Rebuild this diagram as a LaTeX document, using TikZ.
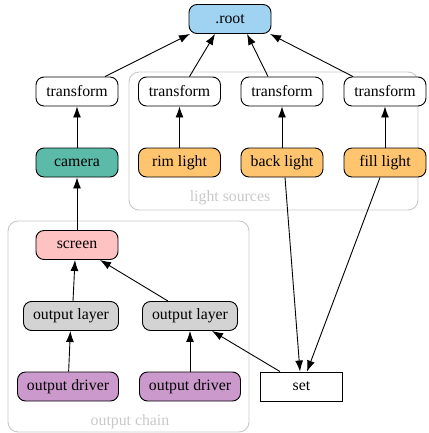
\documentclass[tikz,border=0pt]{standalone}
\usepackage{fontspec}
\setmainfont{Liberation Serif}
\usetikzlibrary{arrows.meta}
\definecolor{rootblue}{HTML}{A0D2F2}
\definecolor{camteal}{HTML}{5BBAA8}
\definecolor{lightorange}{HTML}{FEC46E}
\definecolor{screenpink}{HTML}{FFC2C2}
\definecolor{layergray}{HTML}{D3D3D3}
\definecolor{driverplum}{HTML}{CC99CC}
\definecolor{clustergray}{HTML}{C8C8C8}

\begin{document}
\begin{tikzpicture}[x=1pt, y=-1pt, >={Latex[length=11pt,width=8pt]},
	font=\fontsize{15.8}{18}\selectfont,
	box/.style={draw, rounded corners=8pt, minimum width=82pt, minimum height=29pt, inner sep=2pt, line width=0.9pt},
	edge/.style={->, line width=0.9pt},
	cluster/.style={draw=clustergray, rounded corners=10pt, line width=0.9pt},
	clabel/.style={text=clustergray}]
	\useasboundingbox (0,0) rectangle (428,433);
	%%%	Cluster
	\draw[cluster] (129,72) rectangle (418,210);
	\node[clabel] (lslabel) at (230,198) {light sources};
	\draw[cluster] (8,221) rectangle (249,432);
	\node[clabel] (oclabel) at (130,422) {output chain};
	%%%	Nodi
	\node[box, fill=rootblue] (root) at (230,19) {.root};
	\node[box, fill=white] (t1) at (77,91.5) {transform};
	\node[box, fill=white] (t2) at (179.5,91.5) {transform};
	\node[box, fill=white] (t3) at (282,91.5) {transform};
	\node[box, fill=white] (t4) at (385,91.5) {transform};
	\node[box, fill=camteal] (camera) at (77,162.5) {camera};
	\node[box, fill=lightorange] (rim) at (179.5,162.5) {rim light};
	\node[box, fill=lightorange] (back) at (282,162.5) {back light};
	\node[box, fill=lightorange] (fill) at (385,162.5) {fill light};
	\node[box, fill=screenpink] (screen) at (77,245) {screen};
	\node[box, fill=layergray, minimum width=95pt] (ol1) at (71,316) {output layer};
	\node[box, fill=layergray, minimum width=95pt] (ol2) at (190,316) {output layer};
	\node[box, fill=driverplum, minimum width=101pt] (od1) at (68,386.5) {output driver};
	\node[box, fill=driverplum, minimum width=101pt] (od2) at (190,386.5) {output driver};
	\node[box, rounded corners=0pt, fill=white] (set) at (301.5,386.5) {set};
	%%%	Archi
	\draw[edge] ([xshift=28pt]t1.north) -- ([xshift=-40pt]root.south);
	\draw[edge] ([xshift=10pt]t2.north) -- ([xshift=-15pt]root.south);
	\draw[edge] ([xshift=-14pt]t3.north) -- ([xshift=17pt]root.south);
	\draw[edge] ([xshift=-32pt]t4.north) -- ([xshift=40pt]root.south);
	\draw[edge] (camera) -- (t1);
	\draw[edge] (rim) -- (t2);
	\draw[edge] (back) -- (t3);
	\draw[edge] (fill) -- (t4);
	\draw[edge] (screen) -- (camera);
	\draw[edge] ([xshift=2pt]ol1.north) -- ([xshift=-2pt]screen.south);
	\draw[edge] ([xshift=-22pt]ol2.north) -- ([xshift=23pt]screen.south);
	\draw[edge] (od1) -- (ol1);
	\draw[edge] (od2) -- (ol2);
	\draw[edge] ([xshift=-21.5pt]set.north) -- ([xshift=22pt]ol2.south);
	\draw[edge] ([xshift=3pt]back.south) -- ([xshift=-1.5pt]set.north);
	\draw[edge] ([xshift=-5pt]fill.south) -- ([xshift=5.5pt]set.north);
\end{tikzpicture}
\end{document}
